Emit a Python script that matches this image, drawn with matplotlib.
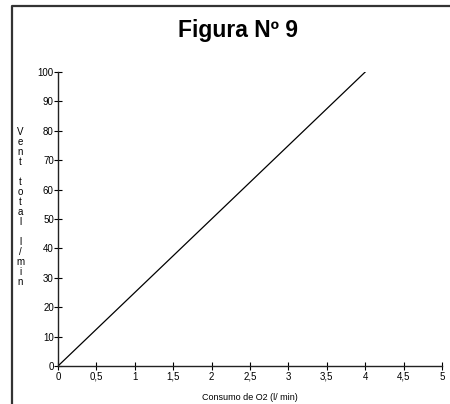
import matplotlib.pyplot as plt
from matplotlib.lines import Line2D

# Data
consumo_o2 = [0, 4]
vent_total = [0, 100]

x_ticks = [0, 0.5, 1, 1.5, 2, 2.5, 3, 3.5, 4, 4.5, 5]
x_labels = ['0', '0,5', '1', '1,5', '2', '2,5', '3', '3,5', '4', '4,5', '5']
y_ticks = list(range(0, 101, 10))

plt.rcParams['font.family'] = ['Liberation Sans', 'DejaVu Sans']

fig = plt.figure(figsize=(4.5, 4.04), dpi=100)
ax = fig.add_axes([58 / 450, 1 - 366 / 404, 384 / 450, 294 / 404])

ax.plot(consumo_o2, vent_total, color='black', linewidth=0.9)

ax.set_xlim(0, 5)
ax.set_ylim(0, 100)
ax.set_xticks(x_ticks)
ax.set_xticklabels(x_labels)
ax.set_yticks(y_ticks)
ax.tick_params(direction='inout', length=6, width=0.8, labelsize=7,
               colors='black', pad=1)
ax.tick_params(axis='y', pad=0)

for side in ['top', 'right']:
    ax.spines[side].set_visible(False)
for side in ['left', 'bottom']:
    ax.spines[side].set_linewidth(1.0)
    ax.spines[side].set_color('#222222')

ax.set_xlabel('Consumo de O2 (l/ min)', fontsize=6.5, labelpad=8)

# vertical stacked y label
ylab = 'V\ne\nn\nt\n\nt\no\nt\na\nl\n\nl\n/\nm\ni\nn'
fig.text(20 / 450, 1 - 207 / 404, ylab, fontsize=7, ha='center', va='center',
         linespacing=1.0)

fig.text(238 / 450, 1 - 30 / 404, 'Figura Nº 9', fontsize=16.5, fontweight='bold',
         ha='center', va='center')

# frame lines (left and top)
fig.add_artist(Line2D([12 / 450, 12 / 450, 1], [0, 1 - 6 / 404, 1 - 6 / 404],
                      transform=fig.transFigure, color='#333333', linewidth=1.6))

plt.savefig('out.png', dpi=100)
